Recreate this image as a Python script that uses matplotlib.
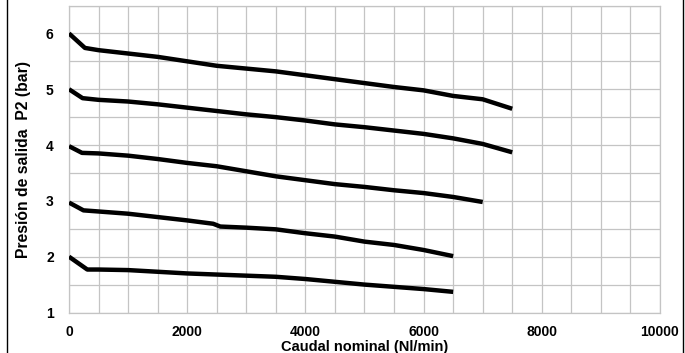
import matplotlib
matplotlib.use("Agg")
import matplotlib.pyplot as plt
from matplotlib.lines import Line2D
from matplotlib.ticker import MultipleLocator

plt.rcParams['font.family'] = ['Liberation Sans', 'DejaVu Sans']
plt.rcParams['font.weight'] = 'bold'

# Outlet pressure curves for each set pressure (bar) vs. nominal flow (Nl/min)
x_p6 = [0, 270, 500, 1000, 1500, 2000, 2500, 3000, 3500, 4000, 4500, 5000, 5500, 6000, 6500, 7000, 7500]
y_p6 = [6.0, 5.74, 5.70, 5.64, 5.58, 5.50, 5.42, 5.37, 5.32, 5.25, 5.18, 5.11, 5.04, 4.98, 4.88, 4.82, 4.65]

x_p5 = [0, 230, 500, 1000, 1500, 2000, 2500, 3000, 3500, 4000, 4500, 5000, 5500, 6000, 6500, 7000, 7500]
y_p5 = [5.0, 4.84, 4.81, 4.78, 4.73, 4.67, 4.61, 4.55, 4.50, 4.44, 4.37, 4.32, 4.26, 4.20, 4.12, 4.02, 3.87]

x_p4 = [0, 220, 500, 1000, 1500, 2000, 2500, 3000, 3500, 4000, 4500, 5000, 5500, 6000, 6500, 7000]
y_p4 = [3.98, 3.86, 3.85, 3.81, 3.75, 3.68, 3.62, 3.53, 3.44, 3.37, 3.30, 3.25, 3.19, 3.14, 3.07, 2.98]

x_p3 = [0, 245, 500, 1000, 1500, 2000, 2440, 2560, 3000, 3500, 4000, 4500, 5000, 5500, 6000, 6500]
y_p3 = [2.97, 2.83, 2.81, 2.77, 2.71, 2.65, 2.59, 2.54, 2.52, 2.49, 2.42, 2.36, 2.27, 2.21, 2.12, 2.01]

x_p2 = [0, 310, 500, 1000, 1500, 2000, 2500, 3000, 3500, 4000, 4500, 5000, 5500, 6000, 6500]
y_p2 = [2.0, 1.77, 1.77, 1.76, 1.73, 1.70, 1.68, 1.66, 1.64, 1.60, 1.55, 1.50, 1.46, 1.42, 1.37]

x_ticks = [0, 2000, 4000, 6000, 8000, 10000]
y_ticks = [1, 2, 3, 4, 5, 6]

fig = plt.figure(figsize=(6.85, 3.53), dpi=100)
ax = fig.add_axes([0.1007, 0.1147, 0.8628, 0.8697])

for xs, ys in [(x_p6, y_p6), (x_p5, y_p5), (x_p4, y_p4), (x_p3, y_p3), (x_p2, y_p2)]:
    ax.plot(xs, ys, color='black', lw=3.2, solid_joinstyle='round',
            solid_capstyle='butt', zorder=3)

ax.set_xlim(0, 10000)
ax.set_ylim(1, 6.5)
ax.set_xticks(x_ticks)
ax.set_yticks(y_ticks)
ax.xaxis.set_minor_locator(MultipleLocator(500))
ax.yaxis.set_minor_locator(MultipleLocator(0.5))
ax.grid(which='both', color='#c4c4c4', lw=0.9, zorder=0)
ax.set_axisbelow(True)
for s in ax.spines.values():
    s.set_color('#c4c4c4')
    s.set_linewidth(0.9)
ax.tick_params(which='both', length=0, labelsize=10)
ax.tick_params(axis='x', pad=9)
ax.tick_params(axis='y', pad=11)
for lab in ax.get_xticklabels() + ax.get_yticklabels():
    lab.set_fontweight('bold')

ax.set_xlabel('Caudal nominal (Nl/min)', fontsize=10.5, fontweight='bold', labelpad=1)
ax.set_ylabel('Presión de salida  P2 (bar)', fontsize=11.3, fontweight='bold', labelpad=11)

# Frame lines at the left and right edges of the figure
fig.add_artist(Line2D([6.5 / 685, 6.5 / 685], [0, 1], color='black', lw=1.0))
fig.add_artist(Line2D([683 / 685, 683 / 685], [0, 1], color='black', lw=1.0))

fig.savefig('out.png', dpi=100)
